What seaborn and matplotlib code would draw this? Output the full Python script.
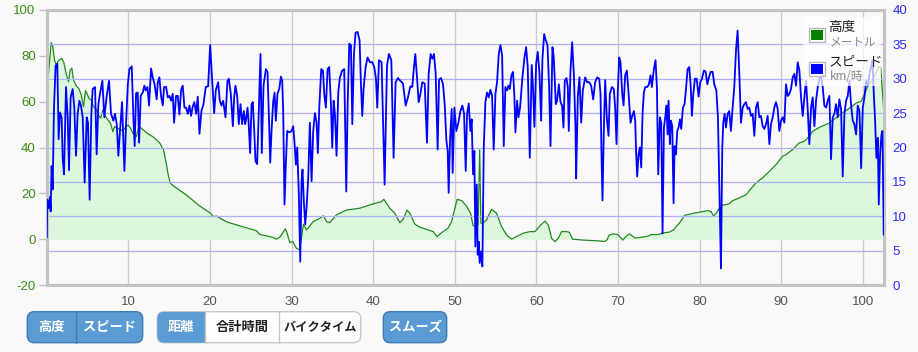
import numpy as np
import pandas as pd
import matplotlib
matplotlib.use("Agg")
import matplotlib.pyplot as plt
import seaborn as sns
from matplotlib.patches import FancyBboxPatch, Rectangle

# ---------------- data ----------------
speed_km = [
    0.00, 0.06, 0.22, 0.39, 0.47, 0.59, 0.72, 0.88, 1.08, 1.29, 1.45, 1.62, 1.82, 1.94, 2.11, 2.35,
    2.56, 2.72, 2.92, 3.17, 3.37, 3.58, 3.78, 3.99, 4.19, 4.40, 4.64, 4.89, 5.05, 5.25, 5.46, 5.62,
    5.91, 6.11, 6.32, 6.52, 6.81, 7.05, 7.34, 7.63, 7.87, 8.16, 8.36, 8.57, 8.77, 8.97, 9.22, 9.51,
    9.71, 9.92, 10.12, 10.41, 10.61, 10.77, 10.94, 11.14, 11.31, 11.51, 11.76, 11.96, 12.12, 12.33,
    12.53, 12.78, 12.98, 13.19, 13.47, 13.60, 13.80, 14.00, 14.21, 14.37, 14.62, 14.82, 15.03, 15.23,
    15.44, 15.60, 15.84, 16.05, 16.25, 16.46, 16.66, 16.87, 17.07, 17.28, 17.48, 17.68, 17.89, 18.09,
    18.30, 18.50, 18.71, 18.95, 19.20, 19.48, 19.77, 20.02, 20.22,
    20.51, 20.71, 21.00, 21.20, 21.41, 21.61, 21.73, 21.90, 22.14, 22.31, 22.55, 22.80, 22.96, 23.12,
    23.33, 23.53, 23.74, 23.94, 24.15, 24.31, 24.43, 24.60, 24.72, 24.92, 25.09, 25.25, 25.42, 25.58,
    25.78, 25.99, 26.19, 26.35, 26.56, 26.85, 27.05, 27.21, 27.38, 27.54, 27.74, 27.91, 28.07, 28.27,
    28.48, 28.69, 28.85, 28.97, 29.13, 29.30, 29.46, 29.71, 29.99, 30.20, 30.40, 30.52, 30.69, 30.89,
    31.06, 31.22, 31.34, 31.50, 31.67, 31.83, 32.04, 32.24, 32.45, 32.65, 32.86, 33.06, 33.22, 33.39,
    33.63, 33.84, 34.00, 34.20, 34.41, 34.61, 34.82, 34.98, 35.15, 35.31, 35.51, 35.72, 35.92, 36.21,
    36.45, 36.70, 36.86, 37.07, 37.27, 37.44, 37.64, 37.84, 38.09, 38.33, 38.50, 38.66, 38.82, 39.07,
    39.31, 39.60, 39.89, 40.13, 40.34, 40.50, 40.71, 41.03,
    41.40, 41.69, 41.93, 42.22, 42.50, 42.75, 43.04, 43.32, 43.65, 43.98, 44.26, 44.55, 44.79, 44.96,
    45.16, 45.37, 45.57, 45.77, 46.02, 46.31, 46.59, 46.80, 47.04, 47.25, 47.45, 47.66, 47.90, 48.07,
    48.31, 48.56, 48.76, 48.97, 49.13, 49.25, 49.42, 49.62, 49.74, 49.95, 50.19, 50.44, 50.69, 50.93,
    51.14, 51.34, 51.50, 51.71, 51.91, 52.07, 52.24, 52.40, 52.52, 52.69, 52.81, 52.93, 53.05, 53.22,
    53.38, 53.55, 53.75, 53.95, 54.16, 54.36, 54.57, 54.77, 54.98, 55.18, 55.39, 55.59, 55.80, 56.00,
    56.20, 56.41, 56.57, 56.74, 56.94, 57.14, 57.31, 57.43, 57.64, 57.80, 58.00, 58.29, 58.54, 58.74,
    58.94, 59.19, 59.43, 59.60, 59.76, 59.97, 60.17, 60.38, 60.58, 60.74, 60.95, 61.15, 61.36, 61.56,
    61.73,
    61.97, 62.13, 62.38, 62.54, 62.75, 62.95, 63.15, 63.32, 63.48, 63.69, 63.85, 63.97, 64.18, 64.38,
    64.59, 64.79, 64.87, 65.08, 65.28, 65.49, 65.69, 65.98, 66.22, 66.47, 66.71, 66.96, 67.20, 67.45,
    67.70, 67.86, 67.98, 68.10, 68.27, 68.43, 68.64, 68.84, 69.00, 69.25, 69.49, 69.65, 69.82, 69.98,
    70.15, 70.31, 70.52, 70.68, 70.88, 71.09, 71.29, 71.54, 71.74, 71.95, 72.11, 72.23, 72.35, 72.52,
    72.68, 72.85, 73.01, 73.17, 73.34, 73.58, 73.79, 73.99, 74.15, 74.40, 74.60, 74.77, 74.93, 75.13,
    75.30, 75.46, 75.63, 75.79, 75.95, 76.08, 76.20, 76.36, 76.48, 76.65, 76.81, 76.94, 77.10, 77.26,
    77.42, 77.59, 77.75, 77.96, 78.16, 78.32, 78.53, 78.73, 78.90, 79.06, 79.23, 79.43, 79.64, 79.88,
    80.08, 80.29, 80.53, 80.74, 80.95, 81.15, 81.35, 81.60, 81.80, 82.05, 82.25,
    82.62, 82.78, 82.90, 83.07, 83.23, 83.44, 83.64, 83.84, 84.05, 84.25, 84.46, 84.66, 84.87, 85.07,
    85.28, 85.48, 85.68, 85.89, 86.09, 86.30, 86.50, 86.71, 86.91, 87.12, 87.32, 87.52, 87.73, 87.93,
    88.14, 88.34, 88.55, 88.75, 88.96, 89.16, 89.36, 89.57, 89.77, 89.98, 90.18, 90.39, 90.59, 90.80,
    91.00, 91.20, 91.41, 91.61, 91.82, 92.02, 92.23, 92.43, 92.64, 92.84, 93.04, 93.25, 93.45, 93.66,
    93.86, 94.07, 94.27, 94.48, 94.68, 94.88, 95.09, 95.29, 95.50, 95.70, 95.91, 96.11, 96.32, 96.52,
    96.72, 96.93, 97.13, 97.34, 97.54, 97.75, 97.95, 98.16, 98.36, 98.56, 98.77, 98.97, 99.18, 99.38,
    99.59, 99.80, 100.00, 100.20, 100.41, 100.61, 100.82, 101.02, 101.18, 101.35, 101.51, 101.67,
    101.84, 101.96, 102.12, 102.29, 102.41, 102.57,
]
speed_kmh = [
    6.9, 12.4, 11.2, 12.8, 10.7, 17.3, 13.9, 25.8, 31.9, 32.2, 21.2, 25.1, 24.4, 18.5, 16.1, 28.8,
    24.4, 16.7, 27.3, 28.5, 25.8, 18.8, 24.9, 26.8, 26.1, 24.4, 14.9, 24.4, 23.6, 12.4, 24.9, 28.5,
    28.8, 19.0, 26.3, 27.8, 29.7, 24.4, 27.5, 29.7, 24.9, 23.9, 24.9, 23.4, 18.8, 22.4, 26.6, 16.6,
    23.4, 29.0, 31.4, 31.8, 24.4, 20.2, 27.9, 28.0, 20.7, 27.5, 28.0, 29.0, 28.3, 28.8,
    26.1, 31.5, 30.2, 29.3, 27.0, 29.5, 30.2, 27.5, 26.1, 28.8, 28.8, 27.3, 27.5, 26.8,
    27.8, 23.6, 27.5, 27.5, 24.8, 28.4, 29.0, 25.8, 25.8, 24.9, 26.1, 24.6, 26.0, 26.6,
    24.9, 27.4, 22.0, 25.3, 26.3, 28.8, 28.9, 34.9, 30.7,
    25.0, 28.3, 29.5, 26.8, 26.1, 26.8, 25.8, 24.4, 29.7, 30.0, 27.8, 23.1, 27.3, 29.0,
    27.5, 23.4, 26.3, 23.4, 25.3, 23.4, 24.1, 25.8, 23.9, 19.2, 26.3, 26.6, 22.4, 18.0,
    17.6, 25.6, 33.6, 19.2, 29.0, 31.4, 31.0, 24.9, 17.8, 22.4, 26.6, 28.0, 23.9, 27.8,
    28.5, 30.3, 29.7, 25.3, 11.7, 17.8, 22.4, 22.2, 22.4, 23.1, 20.0, 17.5, 20.0, 13.1,
    3.4, 15.1, 16.8, 12.2, 8.8, 11.2, 15.6, 23.6, 15.1, 22.4, 25.0, 23.6, 19.2, 25.8,
    31.4, 31.2, 27.8, 25.8, 31.4, 31.7, 26.3, 20.0, 26.8, 24.9, 18.8, 28.0, 30.2, 31.2,
    31.4, 13.6, 25.8, 35.1, 34.9, 23.4, 33.6, 36.7, 36.8, 35.6, 29.2, 24.6, 28.5, 31.7,
    33.1, 32.4, 32.4, 31.7, 30.0, 25.8, 32.7, 32.4,
    14.6, 31.9, 33.6, 32.7, 18.5, 29.5, 30.1, 29.7, 29.3, 26.1, 27.3, 28.9, 28.8, 31.2,
    33.6, 30.2, 26.6, 27.7, 29.5, 29.3, 20.7, 30.7, 33.6, 32.9, 33.6, 30.7, 19.7, 29.9,
    30.1, 29.2, 26.3, 21.0, 19.5, 13.4, 21.2, 25.6, 16.3, 25.8, 22.4, 23.6, 25.3, 26.1,
    24.9, 16.6, 24.9, 26.4, 22.4, 24.1, 16.1, 19.5, 5.6, 14.6, 4.4, 6.3, 3.2, 4.9,
    2.7, 20.0, 26.6, 28.0, 27.3, 28.4, 27.5, 19.7, 27.8, 29.5, 33.6, 34.9, 33.4, 20.2,
    28.8, 28.3, 29.0, 28.5, 30.5, 31.0, 27.3, 22.2, 26.8, 24.4, 25.8, 30.2, 33.1, 34.6,
    31.7, 18.5, 32.0, 28.3, 23.0, 32.2, 33.9, 30.7, 23.9, 32.9, 36.5, 35.6, 34.9, 28.8,
    20.2,
    34.6, 33.1, 26.3, 26.8, 29.2, 26.6, 26.1, 22.9, 29.7, 30.1, 28.8, 22.4, 31.2, 35.3,
    30.7, 22.9, 15.5, 27.5, 30.2, 23.6, 28.3, 30.2, 29.5, 29.5, 29.0, 27.0, 29.5, 30.2,
    30.0, 27.8, 19.0, 12.3, 22.7, 29.8, 24.1, 21.7, 27.8, 28.8, 28.5, 25.8, 20.5, 28.3,
    33.1, 32.4, 27.8, 26.1, 30.5, 31.2, 28.0, 23.6, 24.6, 25.3, 23.9, 19.0, 15.8, 19.0,
    20.0, 17.1, 24.9, 28.0, 28.8, 28.8, 29.2, 30.5, 28.8, 31.4, 32.7, 28.8, 16.1, 24.4,
    23.6, 7.5, 22.9, 24.4, 26.1, 21.9, 26.8, 20.5, 23.9, 23.1, 11.9, 20.2, 19.0, 22.4,
    22.9, 24.1, 22.7, 25.8, 26.3, 28.3, 31.4, 31.7, 29.2, 24.6, 27.8, 30.0, 30.0, 27.4,
    29.5, 30.0, 31.2, 31.0, 29.2, 30.2, 31.0, 31.0, 29.2, 28.3, 24.4,
    2.4, 20.0, 23.6, 24.9, 22.9, 24.9, 25.3, 22.4, 25.8, 28.8, 34.1, 37.0, 30.7, 23.6,
    25.8, 26.3, 26.6, 25.6, 25.8, 24.6, 24.9, 21.7, 25.8, 26.6, 24.4, 24.6, 23.1, 22.7,
    23.4, 24.6, 20.5, 23.4, 24.4, 25.8, 26.6, 25.6, 22.4, 23.9, 24.4, 23.6, 29.2, 27.5,
    27.8, 28.5, 30.2, 30.7, 29.0, 32.4, 31.2, 27.3, 24.6, 27.3, 29.7, 25.6, 20.5, 25.8,
    27.3, 23.1, 26.8, 28.8, 30.0, 30.7, 28.8, 26.1, 25.8, 26.8, 27.5, 18.3, 24.4, 24.9,
    26.3, 24.4, 27.0, 25.6, 15.8, 24.9, 26.8, 27.5, 29.7, 26.3, 23.9, 23.4, 21.9, 26.1,
    25.3, 17.0, 25.8, 27.3, 29.7, 29.0, 30.7, 31.7, 32.7, 27.8, 23.9, 18.5,
    21.4, 11.7, 19.0, 21.9, 22.4, 7.3,
]

alt_km = [
    0.00, 0.05, 0.33, 0.54, 0.74, 0.94, 1.15, 1.35, 1.56, 1.84, 2.09, 2.38, 2.66, 2.87, 3.07, 3.27,
    3.61, 3.92, 4.22, 4.50, 4.75, 4.91, 5.15, 5.44, 5.73, 6.06, 6.34, 6.59, 6.87, 7.20, 7.48, 7.81,
    8.10, 8.30, 8.71, 9.00, 9.32, 9.65, 9.94, 10.27, 10.55, 10.96, 11.28, 11.58, 12.19, 13.00, 13.82,
    14.30, 14.64, 14.84, 15.13, 15.66, 17.10, 18.73, 19.96, 20.45, 20.78, 22.00, 23.64, 25.68, 26.09,
    27.72, 28.13, 28.54, 29.24, 29.44, 29.77, 30.17, 30.59, 30.99, 31.45, 31.82, 32.63, 33.45, 33.90,
    34.30, 34.68, 35.50, 36.72, 38.35, 39.99, 41.02, 41.30, 42.03, 42.65, 43.26, 43.67, 44.16, 44.49,
    45.10, 45.71, 46.53, 47.35, 47.84, 48.37, 49.18, 49.60, 50.01, 50.29, 50.83, 51.44, 51.93, 52.25,
    52.85, 53.05, 53.20, 53.40, 53.89, 54.51, 55.12, 55.73, 56.35, 56.96, 57.57, 58.38, 59.21, 59.82,
    60.43, 61.05, 61.45, 61.87, 62.27, 62.68, 63.09, 63.71, 64.03, 64.44, 65.74, 67.79, 68.35, 68.68,
    68.88, 69.37, 69.98, 70.60, 71.00, 71.40, 72.11, 72.85, 73.67, 74.07, 74.89, 75.50, 76.32, 76.85,
    77.14, 77.55, 78.16, 78.56, 79.39, 80.21, 81.02, 81.43, 81.72, 82.05, 82.45, 82.80, 83.60, 84.05,
    84.87, 85.70, 86.10, 86.90, 87.70, 88.55, 89.36, 90.18, 90.60, 91.40, 92.20, 92.84, 93.45, 93.86,
    94.70, 95.90, 96.70, 97.50, 98.40, 99.20, 99.80, 100.20, 100.60, 101.20, 101.60, 102.00, 102.20,
    102.40, 102.60,
]
alt_m = [
    71.0, 65.8, 77.5, 85.8, 84.0, 78.2, 76.0, 77.5, 78.2, 78.9, 77.0, 72.1, 68.7, 73.8, 74.6, 69.5,
    66.8, 65.8, 62.9, 57.8, 64.8, 63.7, 61.5, 60.7, 57.8, 56.7, 54.2, 52.8, 56.4, 53.5, 52.0, 50.6,
    46.9, 49.1, 48.4, 47.9, 47.3, 48.8, 49.8, 48.4, 46.2, 44.7, 49.1, 48.4, 46.5, 44.7, 42.1,
    39.0, 33.1, 28.8, 24.4, 22.9, 19.3, 14.5, 11.6, 9.8, 10.1, 7.6, 5.8, 3.7, 2.1,
    0.8, 0.0, 0.8, 4.5, 2.8, -1.5, -1.1, -4.0, -4.7, 6.5, 4.0, 7.6, 9.1, 10.2,
    7.6, 7.2, 10.6, 12.7, 13.5, 15.4, 16.4, 17.4, 13.5, 11.3, 7.2, 8.7, 12.7, 11.3,
    6.6, 5.2, 4.3, 3.3, 1.1, 2.8, 4.8, 7.6, 13.5, 17.4, 16.8, 14.5, 11.3, 5.8,
    6.0, 39.0, 7.0, 6.9, 8.4, 13.0, 11.3, 5.5, 1.8, 0.0, 1.1, 2.6, 3.3, 3.3,
    5.8, 7.9, 6.2, 0.4, -1.1, 0.4, 3.3, 3.3, 3.0, 0.0, -0.4, -0.8, -1.0, -0.2,
    1.7, 2.3, 2.0, -0.4, 1.3, 2.3, 0.5, 0.8, 1.3, 2.0, 2.0, 2.7, 3.1, 4.2,
    5.6, 7.1, 10.4, 10.7, 11.4, 11.9, 12.5, 11.9, 10.0, 11.4, 13.6, 14.8, 15.4, 16.8,
    18.0, 19.4, 21.2, 24.5, 26.7, 29.6, 32.5, 36.2, 36.9, 39.1, 42.0, 42.7, 44.9, 47.1,
    48.8, 50.7, 52.9, 55.1, 57.2, 59.4, 60.2, 63.1, 66.7, 69.6, 72.5, 75.4, 74.7,
    64.9, 54.7,
]

x_ticks = [10, 20, 30, 40, 50, 60, 70, 80, 90, 100]
alt_ticks = [-20, 0, 20, 40, 60, 80, 100]
speed_ticks = [0, 5, 10, 15, 20, 25, 30, 35, 40]

legend_titles = ["高度", "スピード"]
legend_units = ["メートル", "km/時"]
buttons_group1 = ["高度", "スピード"]
buttons_group2 = ["距離", "合計時間", "バイクタイム"]
button_smooth = "スムーズ"

# ---------------- style ----------------
sns.set_theme(style="white")
plt.rcParams["font.family"] = ["Liberation Sans", "Noto Sans CJK JP", "DejaVu Sans"]
CJK = ["Noto Sans CJK JP", "DejaVu Sans"]

W, H = 918, 352
BG = "#f9f9f9"
fig = plt.figure(figsize=(W / 100, H / 100), dpi=100, facecolor=BG)
L, R, T, B = 46.8, 884, 10, 285
ax = fig.add_axes([L / W, 1 - B / H, (R - L) / W, (B - T) / H])
ax.set_facecolor(BG)
ax2 = ax.twinx()

alt_df = pd.DataFrame({"km": alt_km, "alt": alt_m})
spd_df = pd.DataFrame({"km": speed_km, "spd": speed_kmh})

ax.fill_between(alt_df["km"], 0, alt_df["alt"].clip(lower=0), color="#ddf7dd", lw=0, zorder=1)
sns.lineplot(data=alt_df, x="km", y="alt", ax=ax, color="#1f8a1f", lw=0.9, sort=False, zorder=3)
sns.lineplot(data=spd_df, x="km", y="spd", ax=ax2, color="#0000ff", lw=1.3, sort=False, zorder=3)

ax.set_xlim(0, 102.6)
ax.set_ylim(-20, 100)
ax2.set_ylim(0, 40)
ax.set_xlabel("")
ax.set_ylabel("")
ax2.set_ylabel("")

ax.set_xticks(x_ticks)
ax.set_xticklabels([str(v) for v in x_ticks])
ax.set_yticks(alt_ticks)
ax.set_yticklabels([str(v) for v in alt_ticks])
ax2.set_yticks(speed_ticks)
ax2.set_yticklabels([str(v) for v in speed_ticks])

ax.tick_params(axis="x", length=0, pad=8, labelsize=9.5, labelcolor="#555555")
ax.tick_params(axis="y", length=6, width=1, color="#c4c4c4", pad=2, labelsize=9.5, labelcolor="#3d8a10")
ax2.tick_params(axis="y", length=0, pad=6, labelsize=9.5, labelcolor="#2a2aff")

ax.xaxis.grid(True, color="#cccccc", lw=1.0)
ax.yaxis.grid(False)
ax2.yaxis.grid(True, color="#b0b0f6", lw=0.9)
ax2.xaxis.grid(False)
ax2.set_axisbelow(True)

for a in (ax, ax2):
    for s in a.spines.values():
        s.set_color("#c4c4c4")
        s.set_linewidth(2.2)

# ---------------- overlay (pixel coordinates) ----------------
ov = fig.add_axes([0, 0, 1, 1], zorder=5)
ov.set_xlim(0, W)
ov.set_ylim(H, 0)
ov.axis("off")
ov.patch.set_alpha(0)

# legend
ov.add_patch(Rectangle((803, 17), 78, 69, facecolor="white", alpha=0.72, lw=0))
for i, (col, title, unit) in enumerate(zip(["#008000", "#0000ff"], legend_titles, legend_units)):
    y0 = 28 + i * 34
    ov.add_patch(Rectangle((808.7, y0), 16.6, 13.5, facecolor="white", edgecolor="#b8b8b8", lw=1))
    ov.add_patch(Rectangle((810.6, y0 + 1.9), 12.8, 9.7, facecolor=col, lw=0))
    ov.text(828.5, y0 - 0.5, title, family=CJK, fontsize=9.8, color="#222222", va="center", ha="left")
    ov.text(830, y0 + 14.3, unit, family=CJK, fontsize=8.4, color="#8a8a8a", va="center", ha="left")

# buttons
BLUE = "#5b9bd3"
BLUE_EDGE = "#3f7cb6"
by, bh = 311.7, 31
def rbox(x0, x1, fc, ec):
    p = FancyBboxPatch((x0, by), x1 - x0, bh, boxstyle="round,pad=0,rounding_size=7",
                       facecolor=fc, edgecolor=ec, lw=1.0)
    ov.add_patch(p)
    return p

rbox(27.3, 142.7, BLUE, BLUE_EDGE)
ov.plot([76, 76], [by, by + bh], color=BLUE_EDGE, lw=1)
for cx, t in zip([51.7, 109.3], buttons_group1):
    ov.text(cx, by + bh / 2, t, family=CJK, fontsize=9.5, fontweight="bold", color="white",
            ha="center", va="center")

g2 = rbox(157.3, 360.7, "#fdfdfd", "#c8c8c8")
sel = Rectangle((157.3, by), 205 - 157.3, bh, facecolor=BLUE, lw=0)
ov.add_patch(sel)
sel.set_clip_path(g2)
ov.plot([205, 205], [by, by + bh], color="#c8c8c8", lw=1)
ov.plot([279.3, 279.3], [by, by + bh], color="#c8c8c8", lw=1)
for cx, t, c, fs in zip([181.2, 242.2, 320.0], buttons_group2, ["white", "#222222", "#222222"], [9.5, 9.5, 8.8]):
    ov.text(cx, by + bh / 2, t, family=CJK, fontsize=fs, fontweight="bold", color=c,
            ha="center", va="center")

rbox(383.3, 446.7, BLUE, BLUE_EDGE)
ov.text(415, by + bh / 2, button_smooth, family=CJK, fontsize=9.5, fontweight="bold", color="white",
        ha="center", va="center")

fig.savefig("out.png", dpi=100, facecolor=BG)
